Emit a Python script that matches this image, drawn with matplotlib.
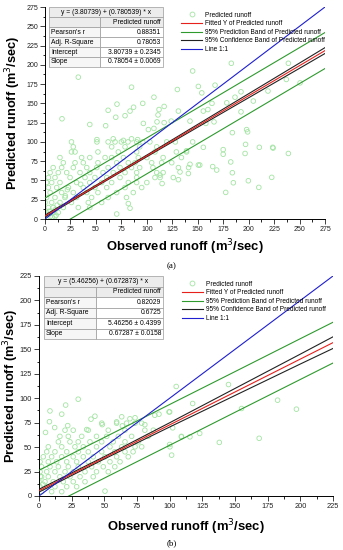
import numpy as np
import matplotlib.pyplot as plt
from matplotlib.patches import Rectangle
from matplotlib.lines import Line2D

plt.rcParams['font.family'] = ['Liberation Sans', 'DejaVu Sans']

# ---- panel (a) data ----
obs_a = [32.7, 85, 130, 107, 70.7, 62, 96, 87, 83.5, 117, 112, 131, 16.7, 44, 59.6, 69.5, 78.6, 111, 110, 117,
         124, 96.6, 101.5, 107, 51, 67, 77, 85, 91,
         183, 145, 239, 150.6, 167, 154, 192.5, 186.6, 237, 250.5, 219, 178.5, 204.6, 192.5, 155.5, 160, 164,
         142.4, 158, 166, 198, 199, 184, 145, 139, 155.5, 175, 175, 197, 210.5, 224, 239, 182.4, 142.4, 150.6,
         132.6, 140.8, 164.7, 168.6, 185, 199.7, 222.7, 210, 177.5, 196.5, 223.6, 184, 152, 70.4, 83.5, 131,
         115, 113,
         26, 51, 62, 68.8, 75, 81.5, 90, 96, 103, 119.5, 128, 27.8, 65.5, 78.6, 93, 109.7,
         26, 29.5, 52, 72, 90, 108, 129, 139, 14.7, 36, 44, 59, 65.5, 77, 91.6, 100, 116, 134,
         18, 29.5, 37.6, 52, 70.4, 81.8, 88.4, 104.8, 114.6, 124.5,
         8, 16.4, 27.8, 41, 50.8, 62, 73.7, 85, 93, 106, 131, 141,
         5, 13, 21.3, 34.4, 44, 57, 67, 78.6, 90, 109.7, 116,
         3.3, 9.8, 24.6, 39.3, 49, 60.6, 73.7, 90, 108, 113, 126,
         1.6, 6.6, 14.7, 31, 44, 55.7, 65.5, 81.8, 90, 100,
         3.3, 11.5, 23, 37.6, 49, 60.6, 78.6, 95,
         5, 16.4, 27.8, 41, 52, 70.4, 86.7,
         1.6, 9.8, 19.6, 31, 45.8, 62, 80,
         0, 6.6, 14.7, 26, 42.5, 55.7, 81.8,
         3.3, 8, 18, 32.7, 44,
         1.6, 8, 13, 0, 5, 9.8, 2, 4, 7, 11, 10, 22, 35, 20, 12]
pred_a = [184, 171, 168, 158, 149, 141, 150, 145, 140, 146, 142, 140, 130, 122.6, 121, 132, 134, 135, 126, 125,
          127, 124, 116, 117.5, 103, 104, 102, 104, 103,
          202, 192, 202, 172, 173.6, 163.6, 165, 158, 181, 176.6, 166, 150.7, 153, 139, 140, 142, 150,
          127, 124, 126, 116, 113, 112, 100, 88.5, 93, 90, 84, 96.8, 93, 92, 85, 74, 71, 70,
          61, 59, 68, 63.5, 47, 49.6, 54, 41, 34.5, 85, 93, 60, 70, 6.5, 14, 51,
          46, 57,
          100, 100, 100, 100, 100, 100, 100, 100, 100, 100, 100, 93.6, 93.6, 93.6, 93.6, 93.6,
          87, 87, 87, 87, 87, 87, 87, 87, 79.7, 79.7, 79.7, 79.7, 79.7, 79.7, 79.7, 79.7, 79.7, 79.7,
          73, 73, 73, 73, 73, 73, 73, 73, 73, 73,
          66.7, 66.7, 66.7, 66.7, 66.7, 66.7, 66.7, 66.7, 66.7, 66.7, 66.7, 66.7,
          60.2, 60.2, 60.2, 60.2, 60.2, 60.2, 60.2, 60.2, 60.2, 60.2, 60.2,
          53.8, 53.8, 53.8, 53.8, 53.8, 53.8, 53.8, 53.8, 53.8, 53.8, 53.8,
          47.3, 47.3, 47.3, 47.3, 47.3, 47.3, 47.3, 47.3, 47.3, 47.3,
          40.8, 40.8, 40.8, 40.8, 40.8, 40.8, 40.8, 40.8,
          34.3, 34.3, 34.3, 34.3, 34.3, 34.3, 34.3,
          27.9, 27.9, 27.9, 27.9, 27.9, 27.9, 27.9,
          21.4, 21.4, 21.4, 21.4, 21.4, 21.4, 20,
          14.9, 14.9, 14.9, 14.9, 14.9,
          8.4, 8.4, 8.4, 3, 3, 3, 6, 10, 2, 5, 12, 38, 45, 30, 18]

band_x_a = [0, 50, 100, 150, 200, 250, 275]
fit_a = [3.81, 42.83, 81.86, 120.89, 159.92, 198.94, 218.46]
conf_hi_a = [5.1, 43.7, 82.9, 122.7, 162.5, 202.3, 222.3]
conf_lo_a = [2.5, 41.9, 80.8, 119.1, 157.3, 195.5, 214.7]
pred_hi_a = [27.1, 66.1, 105.2, 144.2, 183.3, 222.3, 241.9]
pred_lo_a = [-19.5, 19.5, 58.6, 97.6, 136.6, 175.7, 195.2]

# ---- panel (b) data ----
obs_b = [105, 8.4, 17.4, 20.4, 30, 39.8, 42.8, 48.4, 59.4, 63.3, 63.8, 69.6, 73.5, 81, 91.8, 99.5, 88.6, 36.5,
         145, 117.6, 100, 182.6, 197, 155, 102.3, 109, 123, 138, 168.5, 100, 101.5, 50.5, 115.5,
         48, 59.4, 67, 73.5, 78.6,
         19.9, 26.2, 37.7, 53, 65.8, 81, 87.5,
         16, 22.4, 32.7, 44, 51.8, 60.7, 70.9, 83.6, 109,
         14.8, 23.7, 30, 39, 48, 56.8, 65.8, 76,
         7.1, 17.4, 27.5, 33.9, 44, 54.3, 63.3, 73.5, 78.6, 100.2,
         5.9, 12.2, 21.2, 30, 37.7, 48, 58, 65.8, 72,
         3.3, 9.7, 17.4, 26.2, 33.9, 41.5, 50.5, 59.4, 68.3,
         0.8, 7.1, 13.5, 21.2, 28.8, 37.7, 45.4, 54.3, 62,
         2, 8.4, 14.8, 22.4, 30, 40.3, 49.2, 58,
         0.8, 5.9, 12.2, 19.9, 26.2, 35.2, 44, 53,
         2, 7.1, 16, 23.7, 31.4, 41.5,
         0, 4.6, 10.9, 18.6, 26.2, 35.2,
         0.8, 5.9, 12.2, 21.2, 28.8,
         2, 9.7, 17.4, 8, 12, 5, 22, 3, 1]
pred_b = [112, 87, 83.7, 93, 99, 78.6, 81.6, 73, 75.8, 81, 71.7, 79, 80, 73, 83.7, 86, 82.6, 68,
          114, 94.6, 86, 98, 88.8, 89.5, 69.7, 60.5, 64, 54.8, 59, 52.7, 41.8, 5, 60.5,
          74.5, 74.5, 74.5, 74.5, 74.5,
          67.3, 67.3, 67.3, 67.3, 67.3, 67.3, 67.3,
          61, 61, 61, 61, 61, 61, 61, 61, 61,
          55.4, 55.4, 55.4, 55.4, 55.4, 55.4, 55.4, 55.4,
          50.3, 50.3, 50.3, 50.3, 50.3, 50.3, 50.3, 50.3, 50.3, 50.3,
          45.2, 45.2, 45.2, 45.2, 45.2, 45.2, 45.2, 45.2, 45.2,
          40.1, 40.1, 40.1, 40.1, 40.1, 40.1, 40.1, 40.1, 40.1,
          35, 35, 35, 35, 35, 35, 35, 35, 35,
          29.9, 29.9, 29.9, 29.9, 29.9, 29.9, 29.9, 29.9,
          24.8, 24.8, 24.8, 24.8, 24.8, 24.8, 24.8, 24.8,
          19.7, 19.7, 19.7, 19.7, 19.7, 19.7,
          14.6, 14.6, 14.6, 14.6, 14.6, 14.6,
          9.5, 9.5, 9.5, 9.5, 9.5,
          4.4, 4.4, 4.4, 76, 70, 65, 72, 12, 20]

band_x_b = [0, 50, 100, 150, 200, 225]
fit_b = [5.46, 39.11, 72.75, 106.39, 140.04, 156.86]
conf_hi_b = [6.9, 40.3, 74.9, 110.0, 145.1, 162.8]
conf_lo_b = [4.0, 37.9, 70.6, 102.8, 135.0, 150.9]
pred_hi_b = [26.3, 59.9, 93.6, 127.2, 160.9, 177.7]
pred_lo_b = [-15.4, 18.3, 51.9, 85.6, 119.2, 136.0]

# table contents
tab_a = ["y = (3.80739) + (0.780539) * x", "Predicted runoff",
         [("Pearson's r", "0.88351"), ("Adj. R-Square", "0.78053"),
          ("Intercept", "3.80739 \u00b1 0.2345"), ("Slope", "0.78054 \u00b1 0.0069")]]
tab_b = ["y = (5.46256) + (0.672873) * x", "Predicted runoff",
         [("Pearson's r", "0.82029"), ("Adj. R-Square", "0.6725"),
          ("Intercept", "5.46256 \u00b1 0.4399"), ("Slope", "0.67287 \u00b1 0.0158")]]

W, H = 343, 550
fig = plt.figure(figsize=(W / 100, H / 100), dpi=100)

PT_GREEN = '#a2e4a2'
BAND_GREEN = '#2e9a2e'


def draw_table(fig, tab, left, top, right, split, row_h):
    # pixel coords (from top-left) -> figure fraction
    def fx(p):
        return p / W

    def fy(p):
        return 1 - p / H
    title, header, rows = tab
    ec = '#9a9a9a'

    def cell(x0, x1, y0, fc):
        fig.patches.append(Rectangle((fx(x0), fy(y0 + row_h)), fx(x1 - x0), row_h / H,
                                     transform=fig.transFigure, facecolor=fc, edgecolor=ec, lw=0.5, zorder=5))
    cell(left, right, top, '#ececec')
    fig.text(fx((left + right) / 2), fy(top + row_h / 2), title, ha='center', va='center', fontsize=4.9, zorder=6)
    y0 = top + row_h
    cell(left, split, y0, '#ececec')
    cell(split, right, y0, '#ececec')
    fig.text(fx(right - 2), fy(y0 + row_h / 2), header, ha='right', va='center', fontsize=4.9, zorder=6)
    for i, (lab, val) in enumerate(rows):
        yy = top + row_h * (i + 2)
        cell(left, split, yy, '#f6f6f6')
        cell(split, right, yy, 'white')
        fig.text(fx(left + 2), fy(yy + row_h / 2), lab, ha='left', va='center', fontsize=4.9, zorder=6)
        fig.text(fx(right - 2), fy(yy + row_h / 2), val, ha='right', va='center', fontsize=4.9, zorder=6)


def panel(ax, obs, pred, bx, fit, chi, clo, phi, plo, lim, ylab_x, xlab_y, tsize):
    ax.scatter(obs, pred, s=11, facecolors='none', edgecolors=PT_GREEN, linewidths=0.6, zorder=2)
    ax.plot(bx, phi, color=BAND_GREEN, lw=0.8, zorder=3)
    ax.plot(bx, plo, color=BAND_GREEN, lw=0.8, zorder=3)
    ax.plot(bx, chi, color='#222222', lw=0.8, zorder=3)
    ax.plot(bx, clo, color='#222222', lw=0.8, zorder=3)
    ax.plot(bx, fit, color='#e8201c', lw=0.8, zorder=4)
    ax.plot([0, lim], [0, lim], color='#1f1fd0', lw=0.8, zorder=4)
    ax.set_xlim(0, lim)
    ax.set_ylim(0, lim)
    ax.set_xticks(np.arange(0, lim + 1, 25))
    ax.set_yticks(np.arange(0, lim + 1, 25))
    ax.set_xticks(np.arange(12.5, lim, 25), minor=True)
    ax.set_yticks(np.arange(12.5, lim, 25), minor=True)
    ax.tick_params(which='major', direction='out', length=3.5, width=0.6, labelsize=tsize, pad=1.5,
                   colors='#222222')
    ax.tick_params(which='minor', direction='out', length=1.8, width=0.6)
    for s in ('top', 'right'):
        ax.spines[s].set_visible(False)
    for s in ('left', 'bottom'):
        ax.spines[s].set_linewidth(0.7)
    ax.set_xlabel('Observed runoff (m$^3$/sec)', fontsize=9.4, fontweight='bold', va='center')
    ax.set_ylabel('Predicted runoff (m$^3$/sec)', fontsize=9.2, fontweight='bold', va='center')
    ax.xaxis.set_label_coords(0.5, xlab_y)
    ax.yaxis.set_label_coords(ylab_x, 0.5)
    handles = [Line2D([], [], ls='none', marker='o', mfc='none', mec=PT_GREEN, ms=3.5, mew=0.6),
               Line2D([], [], color='#e8201c', lw=0.8),
               Line2D([], [], color=BAND_GREEN, lw=0.8),
               Line2D([], [], color='#222222', lw=0.8),
               Line2D([], [], color='#1f1fd0', lw=0.8)]
    labels = ['Predicted runoff', 'Fitted Y of Predicted runoff', '95% Prediction Band of Predicted runoff',
              '95% Confidence Band of Predicted runoff', 'Line 1:1']
    ax.legend(handles, labels, loc='upper left', bbox_to_anchor=(0.47, 1.0), frameon=False, fontsize=4.7,
              handlelength=3.2, handletextpad=0.5, labelspacing=0.25, borderaxespad=0.3)


ax_a = fig.add_axes([45 / W, 1 - 219 / H, 280 / W, 212 / H])
panel(ax_a, obs_a, pred_a, band_x_a, fit_a, conf_hi_a, conf_lo_a, pred_hi_a, pred_lo_a, 275,
      (13.5 - 45) / 280, (219 - 247) / 212, 5)
draw_table(fig, tab_a, 49, 7.5, 163, 100, 9.9)
fig.text(172 / W, 1 - 266 / H, '(a)', ha='center', va='center', fontsize=6.5, family='Liberation Serif')

ax_b = fig.add_axes([39 / W, 1 - 496 / H, 294 / W, 220 / H])
panel(ax_b, obs_b, pred_b, band_x_b, fit_b, conf_hi_b, conf_lo_b, pred_hi_b, pred_lo_b, 225,
      (11 - 39) / 294, (496 - 527) / 220, 5.3)
draw_table(fig, tab_b, 44, 276, 163, 96, 10.5)
fig.text(172 / W, 1 - 543 / H, '(b)', ha='center', va='center', fontsize=6.5, family='Liberation Serif')

fig.savefig('out.png', dpi=100)
